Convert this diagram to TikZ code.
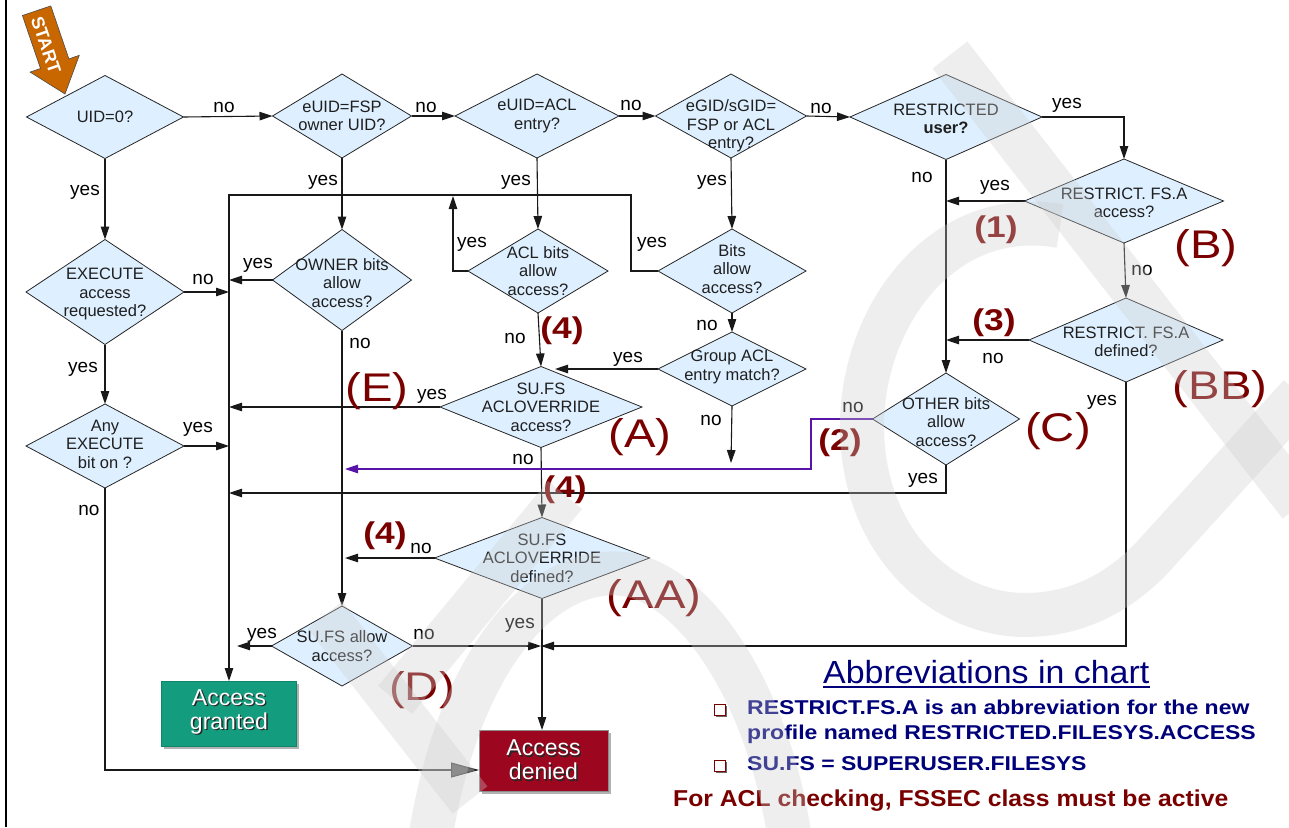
\documentclass[tikz,border=0pt]{standalone}
\usepackage{graphicx}
\usepackage{fontspec}
\setmainfont{Liberation Sans}
\usetikzlibrary{shapes.geometric,arrows.meta,calc}

\definecolor{dfill}{RGB}{222,240,255}
\definecolor{lblred}{RGB}{122,0,0}
\definecolor{navytxt}{RGB}{0,0,122}
\definecolor{granted}{RGB}{20,156,126}
\definecolor{denied}{RGB}{156,6,30}
\definecolor{startor}{RGB}{200,102,0}
\definecolor{purp}{RGB}{88,20,168}
\definecolor{wmark}{RGB}{205,205,205}

% horizontally widened text
\newcommand\wid[2][1.18]{\scalebox{#1}[1]{#2}}
% white text with a dark drop shadow
\newcommand\shtxt[1]{\leavevmode\rlap{\hspace{1.4pt}\raisebox{-1.4pt}{\color{black!85}#1}}#1}

\begin{document}
\begin{tikzpicture}[x=1pt,y=-1pt,
  dia/.style 2 args={shape=diamond, draw=black!85, fill=dfill, line width=0.8pt,
     inner sep=0pt, outer sep=0pt, minimum width=#1pt, minimum height=#2pt},
  dtext/.style={font=\fontsize{16.5}{18.5}\selectfont, align=center, text=black!88, inner sep=0pt},
  wire/.style={line width=1.1pt, draw=black!90},
  arr/.style={wire, -{Triangle[length=13pt,width=8.5pt]}},
  parr/.style={line width=1.1pt, draw=purp, -{Triangle[length=13pt,width=8.5pt]}},
  bigarr/.style={wire, -{Triangle[length=28pt,width=15pt,fill=black!75]}},
  yn/.style={font=\fontsize{19}{22}\selectfont, inner sep=0pt, anchor=base},
  tag/.style={text=lblred, font=\fontsize{40}{44}\selectfont, inner sep=0pt},
  num/.style={text=lblred, font=\bfseries\fontsize{30}{32}\selectfont, inner sep=0pt},
  endbox/.style={inner sep=0pt, outer sep=0pt},
  boxtxt/.style={font=\fontsize{23}{24}\selectfont, text=white, align=center, inner sep=0pt},
  wm/.style={draw=wmark, opacity=.33, line width=44pt}
]
\useasboundingbox (0,0) rectangle (1289,827);
\fill[white] (0,0) rectangle (1289,827);
\draw[line width=1.4pt] (6,0) -- (6,827);

% ---------- start marker ----------
\filldraw[fill=startor, draw=black!70, line width=0.6pt]
  (22.4,15.5) -- (50.8,5.9) -- (68.9,58.9) -- (79.3,55.3) -- (65,94)
  -- (30.1,72.1) -- (40.5,68.5) -- cycle;
\node[rotate=-71.2, text=white, font=\bfseries\fontsize{18}{18}\selectfont, inner sep=0] (start) at (46,45) {START};

% ---------- decisions ----------
\node[dia={157}{83}] (uid) at (105,117) {};
\node[dtext] (uidT) at (uid) {UID=0?};
\node[dia={139}{84}] (fsp) at (342,116) {};
\node[dtext] (fspT) at (fsp) {eUID=FSP\\owner UID?};
\node[dia={164}{84}] (acle) at (537,116) {};
\node[dtext] (acleT) at (acle) {eUID=ACL\\entry?};
\node[dia={151}{84}] (egid) at (731,116) {};
\node[dtext] (egidT) at ($(egid)+(0,10)$) {eGID/sGID=\\FSP or ACL\\entry?};
\node[dia={192}{85}] (ru) at (946,117) {};
\node[dtext] (ruT) at ($(ru)+(0,2)$) {RESTRICTED\\\textbf{user?}};
\node[dia={199}{84}] (rfa) at (1124,201) {};
\node[dtext] (rfaT) at ($(rfa)+(0,2)$) {RESTRICT. FS.A\\access?};
\node[dia={158}{105}] (exe) at (105,292) {};
\node[dtext] (exeT) at ($(exe)+(0,2)$) {EXECUTE\\access\\requested?};
\node[dia={139}{101}] (own) at (342,280) {};
\node[dtext] (ownT) at ($(own)+(0,3)$) {OWNER bits\\allow\\access?};
\node[dia={140}{84}] (aclb) at (538,271) {};
\node[dtext] (aclbT) at (aclb) {ACL bits\\allow\\access?};
\node[dia={148}{84}] (bits) at (732,271) {};
\node[dtext] (bitsT) at ($(bits)+(0,-2)$) {Bits\\allow\\access?};
\node[dia={194}{84}] (rfd) at (1126,340) {};
\node[dtext] (rfdT) at ($(rfd)+(0,2)$) {RESTRICT. FS.A\\defined?};
\node[dia={148}{74}] (grp) at (732,369) {};
\node[dtext] (grpT) at ($(grp)+(0,-2)$) {Group ACL\\entry match?};
\node[dia={158}{84}] (any) at (105,446) {};
\node[dtext] (anyT) at ($(any)+(0,-2)$) {Any\\EXECUTE\\bit on ?};
\node[dia={202}{81}] (suo) at (541,407) {};
\node[dtext] (suoT) at (suo) {SU.FS\\ACLOVERRIDE\\access?};
\node[dia={147}{92}] (oth) at (946,419) {};
\node[dtext] (othT) at ($(oth)+(0,3)$) {OTHER bits\\allow\\access?};
\node[dia={215}{81}] (sud) at (542,558) {};
\node[dtext] (sudT) at (sud) {SU.FS\\ACLOVERRIDE\\defined?};
\node[dia={141}{80}] (sua) at (342,646) {};
\node[dtext] (suaT) at (sua) {SU.FS allow\\access?};

% ---------- outcomes ----------
\fill[black!30] (164,684) rectangle (299,749);
\node[endbox, fill=granted, draw=granted!85!black, minimum width=135pt, minimum height=65pt] (gr) at (229,713.5) {};
\node[boxtxt] (grT) at ($(gr)+(0,-1)$) {\shtxt{Access}\\\shtxt{granted}};
\fill[black!30] (482,733) rectangle (611,794);
\node[endbox, fill=denied, draw=black!45, minimum width=129pt, minimum height=61pt] (den) at (543.5,760.5) {};
\node[boxtxt] (denT) at ($(den)+(0,0)$) {\shtxt{Access}\\\shtxt{denied}};

% ---------- junction points ----------
\coordinate (loop) at (631,195);
\coordinate (aclup) at (453,196);
\coordinate (grpy) at (555,369);
\coordinate (grpn) at (731,463);
\coordinate (pk) at (811,469);
\coordinate (pend) at (345,469);
\coordinate (oy) at (229,493);
\coordinate (sudn) at (345,558);
\coordinate (suay) at (237,646);
\coordinate (meet) at (541,646);
\coordinate (denin) at (479,770);

% ---------- connectors ----------
\draw[arr] (uid.east) -- (fsp.west);
\draw[arr] (fsp.east) -- (acle.west);
\draw[arr] (acle.east) -- (egid.west);
\draw[arr] (egid.east) -- (ru.west);
\draw[arr] (ru.east) -| (rfa.north);

\draw[arr] (uid.south) -- (exe.north);
\draw[arr] (exe.south) -- (any.north);
\draw[arr] (fsp.south) -- (own.north);
\draw[arr] (acle.south) -- (aclb.north);
\draw[arr] (egid.south) -- (bits.north);
\draw[arr] (bits.south) -- (grp.north);
\draw[arr] (ru.south) -- (oth.north);
\draw[arr] (rfa.south) -- (rfd.north);
\draw[arr] (own.south) -- (sua.north);
\draw[arr] (aclb.south) -- (suo.north);
\draw[arr] (suo.south) -- (sud.north);
\draw[arr] (sud.south) -- (sud.south |- den.north);

\draw[arr] (exe.east) -- (exe.east -| gr.north);
\draw[arr] (any.east) -- (any.east -| gr.north);
\draw[arr] (own.west) -- (own.west -| gr.north);
\draw[arr] (suo.west) -- (suo.west -| gr.north);
\draw[arr] (oth.south) |- (oy);
\draw[arr] (bits.west) -| (loop) -- (loop -| gr.north) -- (gr.north);
\draw[arr] (aclb.west) -| (aclup);
\draw[arr] (grp.west) -- (grpy);
\draw[arr] (grp.south) -- (grpn);
\draw[parr] (oth.west) -| (pk) -- (pend);
\draw[arr] (rfa.west) -- (rfa.west -| ru.south);
\draw[arr] (rfd.west) -- (rfd.west -| ru.south);
\draw[arr] (rfd.south) |- (meet);
\draw[arr] (sua.east) -- (meet);
\draw[arr] (sua.west) -- (suay);
\draw[arr] (sud.west) -- (sudn);
\draw[bigarr] (any.south) |- (denin);

% ---------- yes / no ----------
\node[yn] (l1) at (224,112) {no};
\node[yn] (l2) at (426,112) {no};
\node[yn] (l3) at (631,110) {no};
\node[yn] (l4) at (821,113) {no};
\node[yn] (l5) at (1067,108) {yes};
\node[yn] (l6) at (85,195) {yes};
\node[yn] (l7) at (323,185) {yes};
\node[yn] (l8) at (516,185) {yes};
\node[yn] (l9) at (712,185) {yes};
\node[yn] (l10) at (922,182) {no};
\node[yn] (l11) at (995,190) {yes};
\node[yn] (l12) at (1142,275) {no};
\node[yn] (l13) at (472,247) {yes};
\node[yn] (l14) at (652,247) {yes};
\node[yn] (l15) at (203,284) {no};
\node[yn] (l16) at (258,268) {yes};
\node[yn] (l17) at (360,348) {no};
\node[yn] (l18) at (83,372) {yes};
\node[yn] (l19) at (198,432) {yes};
\node[yn] (l20) at (89,515) {no};
\node[yn] (l21) at (432,399) {yes};
\node[yn] (l22) at (515,343) {no};
\node[yn] (l23) at (707,330) {no};
\node[yn] (l24) at (628,362) {yes};
\node[yn] (l25) at (711,425) {no};
\node[yn] (l26) at (523,464) {no};
\node[yn] (l27) at (853,412) {no};
\node[yn] (l28) at (993,363) {no};
\node[yn] (l29) at (1102,405) {yes};
\node[yn] (l30) at (923,483) {yes};
\node[yn] (l31) at (421,553) {no};
\node[yn] (l32) at (520,628) {yes};
\node[yn] (l33) at (262,638) {yes};
\node[yn] (l34) at (424,639) {no};

% ---------- case tags ----------
\node[tag] (tA) at (640,437) {\wid{(A)}};
\node[tag] (tB) at (1206,248) {\wid{(B)}};
\node[tag] (tBB) at (1220,389) {\wid{(BB)}};
\node[tag] (tC) at (1058,431) {\wid{(C)}};
\node[tag] (tE) at (377,391) {\wid{(E)}};
\node[tag] (tD) at (422,690) {\wid{(D)}};
\node[tag] (tAA) at (654,598) {\wid{(AA)}};
\node[num] (n1) at (996,230) {\wid{(1)}};
\node[num] (n3) at (994,323) {\wid{(3)}};
\node[num] (n4a) at (562,331) {\wid{(4)}};
\node[num] (n4b) at (565,490) {\wid{(4)}};
\node[num] (n4c) at (385,536) {\wid{(4)}};
\node[num] (n2) at (840,443) {\wid{(2)}};

% ---------- abbreviations ----------
\node[anchor=base west, text=navytxt, font=\fontsize{32}{36}\selectfont, inner sep=0] (abbr) at (823,683) {\wid[1.06]{Abbreviations in chart}};
\draw[navytxt, line width=1.8pt] ($(abbr.base west)+(0,4)$) -- ($(abbr.base east)+(0,4)$);
\fill[black!60] (716,706) rectangle (727,717);
\draw[lblred, line width=1pt, fill=white] (714,704) rectangle (725,715);
\fill[black!60] (716,762) rectangle (727,773);
\draw[lblred, line width=1pt, fill=white] (714,760) rectangle (725,771);
\node[anchor=base west, text=navytxt, font=\bfseries\fontsize{20}{24}\selectfont, inner sep=0] (ab1) at (747,714) {\wid[1.15]{RESTRICT.FS.A is an abbreviation for the new}};
\node[anchor=base west, text=navytxt, font=\bfseries\fontsize{20}{24}\selectfont, inner sep=0] (ab2) at (747,739) {\wid[1.15]{profile named RESTRICTED.FILESYS.ACCESS}};
\node[anchor=base west, text=navytxt, font=\bfseries\fontsize{20}{24}\selectfont, inner sep=0] (ab3) at (747,770) {\wid[1.15]{SU.FS = SUPERUSER.FILESYS}};
\node[anchor=base west, text=lblred, font=\bfseries\fontsize{23}{26}\selectfont, inner sep=0] (note) at (673,806) {\wid[1.075]{For ACL checking, FSSEC class must be active}};

% ---------- background mark ----------
\draw[wm] (950,55) -- (1300,505);
\draw[wm] (1060,226) .. controls (940,205) and (860,320) .. (862,430)
   .. controls (864,545) and (945,615) .. (1025,615)
   .. controls (1080,615) and (1120,590) .. (1150,560) -- (1300,395);
\draw[wm] (565,495) -- (395,700);
\draw[wm] (325,615) -- (470,800);
\draw[wm] (430,840) .. controls (460,650) and (550,560) .. (630,575)
   .. controls (700,590) and (770,700) .. (790,840);
\end{tikzpicture}
\end{document}
